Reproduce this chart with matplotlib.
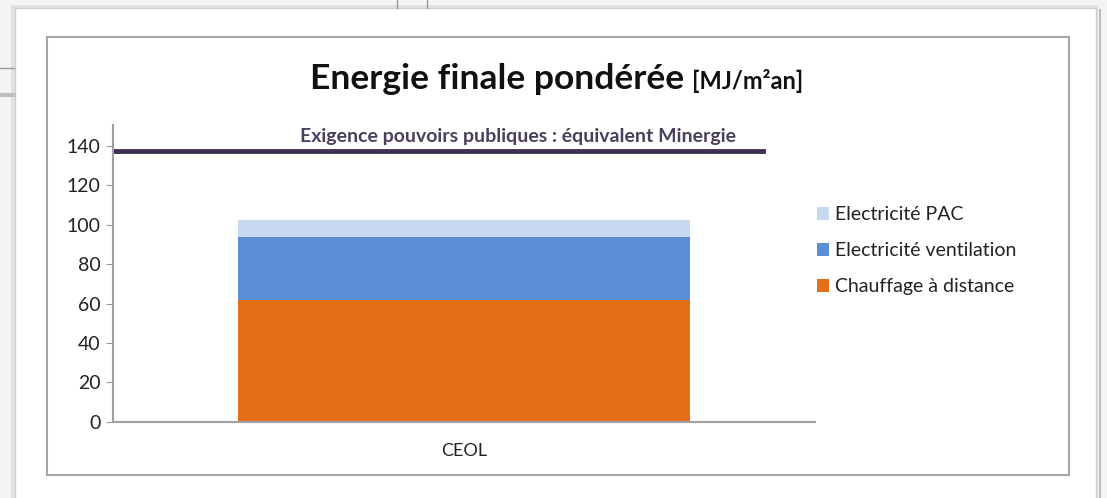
import matplotlib
matplotlib.use("Agg")
import matplotlib.pyplot as plt
from matplotlib.patches import Rectangle
from matplotlib.lines import Line2D

plt.rcParams['font.family'] = ['Lato', 'DejaVu Sans']

# data
categories = ["CEOL"]
chauffage = [61.6]
ventilation = [32.0]
pac = [8.7]
exigence = 137.5
series_names = ["Chauffage à distance", "Electricité ventilation", "Electricité PAC"]
colors = ["#E46F17", "#5A8FD6", "#C6D9F0"]

fig = plt.figure(figsize=(11.07, 4.98), dpi=100)
W, H = 1107, 498

# screenshot decorations: page with shadow, chart frame
def px_rect(x0, y0, x1, y1, **kw):
    fig.patches.append(Rectangle((x0 / W, 1 - y1 / H), (x1 - x0) / W, (y1 - y0) / H,
                                 transform=fig.transFigure, **kw))

def px_line(x0, y0, x1, y1, **kw):
    fig.lines.append(Line2D([x0 / W, x1 / W], [1 - y0 / H, 1 - y1 / H],
                            transform=fig.transFigure, **kw))

px_rect(0, 0, W, H, facecolor="#f4f4f4", edgecolor="none", zorder=0)
px_rect(11, 5, 1098, 505, facecolor="#e2e2e2", edgecolor="none", zorder=0.5)
px_rect(15, 8, 1096, 505, facecolor="white", edgecolor="#d0d0d0", lw=1, zorder=1)
px_line(0, 68, 14, 68, color="#9a9a9a", lw=1)
px_line(0, 95, 14, 95, color="#c0c0c0", lw=3)
px_line(397, 0, 397, 8, color="#9a9a9a", lw=1)
px_line(427, 0, 427, 8, color="#9a9a9a", lw=1)
px_line(1100, 10, 1100, 498, color="#bdbdbd", lw=1.5)
px_rect(47, 37, 1069, 475, facecolor="white", edgecolor="#a6a6a6", lw=1.5, zorder=2)

ax = fig.add_axes([113 / W, 1 - 421.7 / H, 702 / W, (421.7 - 125) / H], zorder=5)
ax.patch.set_alpha(0)

x = range(len(categories))
bottom2 = [a + b for a, b in zip(chauffage, ventilation)]
ax.bar(x, pac, 0.645, bottom=bottom2, color=colors[2], label=series_names[2])
ax.bar(x, ventilation, 0.645, bottom=chauffage, color=colors[1], label=series_names[1])
ax.bar(x, chauffage, 0.645, color=colors[0], label=series_names[0])

ax.axhline(exigence, xmin=0.003, xmax=0.926, color="#3F3151", lw=3.5)
ax.text(0.577, exigence + 3.2, "Exigence pouvoirs publiques : équivalent Minergie",
        transform=ax.get_yaxis_transform(), ha="center", va="bottom",
        fontsize=14, fontweight="bold", color="#4A3F5C")

ax.set_xlim(-0.5, 0.5)
ax.set_ylim(0, 150.7)
ax.set_yticks(range(0, 141, 20))
ax.set_xticks(list(x))
ax.set_xticklabels(categories)
ax.tick_params(axis="y", length=5, color="#9a9a9a", labelsize=14, pad=4, labelcolor="#222222")
ax.tick_params(axis="x", length=0, labelsize=13, pad=15, labelcolor="#222222")
for s in ["top", "right"]:
    ax.spines[s].set_visible(False)
for s in ["left", "bottom"]:
    ax.spines[s].set_color("#a0a0a0")
    ax.spines[s].set_linewidth(1.5)

leg = ax.legend(loc="upper left", bbox_to_anchor=(0.992, 0.753), frameon=False,
                fontsize=14, handlelength=0.62, handleheight=0.62,
                handletextpad=0.3, labelspacing=0.98, borderaxespad=0)
for t in leg.get_texts():
    t.set_color("#222222")

fig.text(310 / W, 1 - 89 / H, "Energie finale pondérée", fontsize=25.5,
         fontweight="bold", va="baseline", ha="left", color="#111111")
fig.text(692 / W, 1 - 89 / H, "[MJ/m²an]", fontsize=17,
         fontweight="bold", va="baseline", ha="left", color="#111111")

fig.savefig("out.png", dpi=100)
